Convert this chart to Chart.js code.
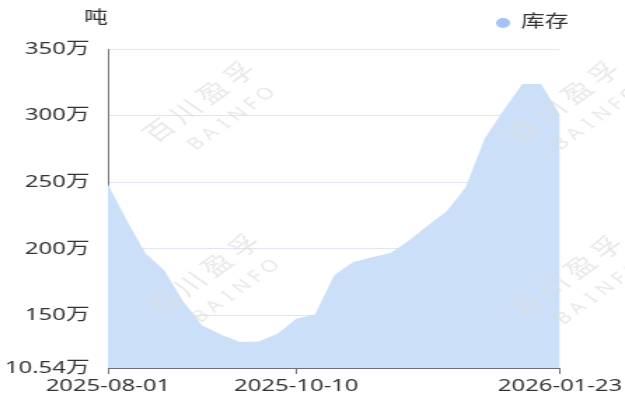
<!DOCTYPE html>
<html><head><meta charset="utf-8">
<script src="https://cdn.jsdelivr.net/npm/chart.js@4.4.1/dist/chart.umd.min.js"></script>
<style>
html,body{margin:0;padding:0;background:#fff;overflow:hidden;width:625px;height:401px;}
#wrap{width:446px;height:401px;transform:scaleX(1.4013);transform-origin:0 0;}
canvas{display:block;}
</style></head><body>
<div id="wrap"><canvas id="c" width="446" height="401"></canvas></div>
<script>
const categories = ['2025-08-01','2025-08-08','2025-08-15','2025-08-22','2025-08-29','2025-09-05','2025-09-12','2025-09-19','2025-09-26','2025-10-03','2025-10-10','2025-10-17','2025-10-24','2025-10-31','2025-11-07','2025-11-14','2025-11-21','2025-11-28','2025-12-05','2025-12-12','2025-12-19','2025-12-26','2026-01-09','2026-01-16','2026-01-23'];
const stockValues = [2485000,2215000,1964000,1838000,1605000,1425000,1357000,1300000,1305000,1362000,1475000,1508000,1800000,1900000,1936000,1968000,2064000,2177000,2284000,2465000,2828000,3040000,3237000,3237000,3004000];
const yTickValues = [1105400,1500000,2000000,2500000,3000000,3500000];
const yTickLabels = ['10.54万','150万','200万','250万','300万','350万'];
const xLabelIndices = [0,10,24];
const seriesName = '库存';
const unitLabel = '吨';
const watermarkMain = '百川盈孚';
const watermarkSub = 'BAINFO';

const FONT = '"Noto Sans", "Noto Sans CJK SC", sans-serif';
Chart.defaults.font.family = FONT;

const overlay = {
  id: 'overlay',
  afterDraw(chart) {
    const ctx = chart.ctx;
    // watermarks
    const spots = [[141.7,101.5],[144.9,274],[401.8,101.5],[404,276]];
    ctx.save();
    ctx.fillStyle = 'rgba(222,222,222,0.7)';
    ctx.textAlign = 'center';
    ctx.textBaseline = 'middle';
    spots.forEach(([cx, cy]) => {
      ctx.save();
      ctx.translate(cx, cy);
      ctx.rotate(-Math.PI / 4);
      ctx.font = '22px "Noto Sans CJK SC"';
      const chars = Array.from(watermarkMain);
      chars.forEach((ch, i) => ctx.fillText(ch, (i - (chars.length - 1) / 2) * 27, 0));
      ctx.font = '16px "Noto Sans"';
      const letters = Array.from(watermarkSub);
      letters.forEach((ch, i) => ctx.fillText(ch, 4 + (i - (letters.length - 1) / 2) * 14, 29));
      ctx.restore();
    });
    ctx.restore();
    // unit label
    ctx.save();
    ctx.fillStyle = '#333';
    ctx.font = '17px ' + FONT;
    ctx.textAlign = 'center';
    ctx.textBaseline = 'middle';
    ctx.fillText(unitLabel, 68.5, 18);
    // legend
    ctx.fillStyle = '#a3c2f5';
    ctx.beginPath();
    ctx.arc(359, 23, 5, 0, Math.PI * 2);
    ctx.fill();
    ctx.fillStyle = '#333';
    ctx.textAlign = 'left';
    ctx.fillText(seriesName, 371.8, 22);
    ctx.restore();
  }
};

new Chart(document.getElementById('c'), {
  type: 'line',
  data: {
    labels: categories,
    datasets: [{
      label: seriesName,
      data: stockValues,
      fill: 'start',
      backgroundColor: 'rgb(203,223,249)',
      borderColor: 'rgba(0,0,0,0)',
      borderWidth: 0,
      pointRadius: 0,
      pointHoverRadius: 0,
      tension: 0
    }]
  },
  options: {
    responsive: false,
    animation: false,
    devicePixelRatio: 1,
    layout: { padding: { top: 49, right: 46, bottom: 0, left: 0 } },
    plugins: { legend: { display: false }, tooltip: { enabled: false } },
    scales: {
      x: {
        type: 'category',
        offset: false,
        grid: { drawOnChartArea: false, drawTicks: true, tickLength: 6, color: '#6e7079' },
        border: { color: '#6e7079', width: 1 },
        ticks: {
          autoSkip: false, maxRotation: 0, minRotation: 0, padding: 2,
          color: '#333', font: { size: 17 },
          callback: function (v) { return this.getLabelForValue(v); }
        },
        afterBuildTicks: s => { s.ticks = s.ticks.filter(t => xLabelIndices.includes(t.value)); },
        afterFit: s => { s.height = 33; }
      },
      y: {
        min: yTickValues[0],
        max: yTickValues[yTickValues.length - 1],
        grid: { color: '#e0e6f1', drawTicks: false },
        border: { display: true, color: '#6e7079', width: 1 },
        ticks: {
          padding: 13, color: '#333', font: { size: 17 },
          callback: v => { const i = yTickValues.indexOf(v); return i >= 0 ? yTickLabels[i] : ''; }
        },
        afterBuildTicks: s => { s.ticks = yTickValues.map(v => ({ value: v })); },
        afterFit: s => { s.width = 77; }
      }
    }
  },
  plugins: [overlay]
});
</script>
</body></html>
